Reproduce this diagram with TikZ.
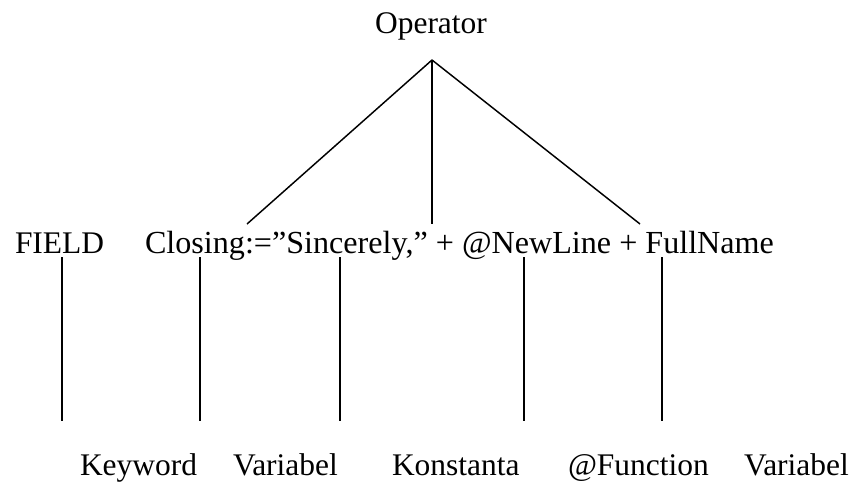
\documentclass[tikz,border=0pt]{standalone}
\usepackage{fontspec}
\setmainfont{Liberation Serif}
\begin{document}
\begin{tikzpicture}[x=0.75pt,y=-0.75pt,
  lbl/.style={inner sep=0pt,outer sep=0pt,font=\fontsize{23.6}{28}\selectfont},
  edge/.style={line width=1.1pt}]
\useasboundingbox (0,0) rectangle (859,482);

% root
\node[lbl,anchor=base] (op) at (431,33) {Operator};
\coordinate (apex) at (432,60);

% expression line
\node[lbl,anchor=base west] (field) at (15,253) {FIELD};
\node[lbl,anchor=base west,font=\fontsize{24.1}{28}\selectfont] (expr) at (145,253) {Closing:=”Sincerely,” + @NewLine + FullName};

% operator branch ends
\coordinate (opL) at (247,224);
\coordinate (opM) at (432,224);
\coordinate (opR) at (640,224);
\draw[edge] (apex) -- (opL);
\draw[edge] (apex) -- (opM);
\draw[edge] (apex) -- (opR);

% token stems
\foreach \n/\x in {a/62,b/200,c/340,d/524,e/662}{
  \coordinate (s\n) at (\x,257);
  \coordinate (t\n) at (\x,421);
  \draw[edge] (s\n) -- (t\n);
}

% token kinds
\node[lbl,anchor=base west] (k1) at (80,475) {Keyword};
\node[lbl,anchor=base west] (k2) at (233,475) {Variabel};
\node[lbl,anchor=base west] (k3) at (392,475) {Konstanta};
\node[lbl,anchor=base west] (k4) at (568,475) {@Function};
\node[lbl,anchor=base west] (k5) at (744,475) {Variabel};
\end{tikzpicture}
\end{document}
